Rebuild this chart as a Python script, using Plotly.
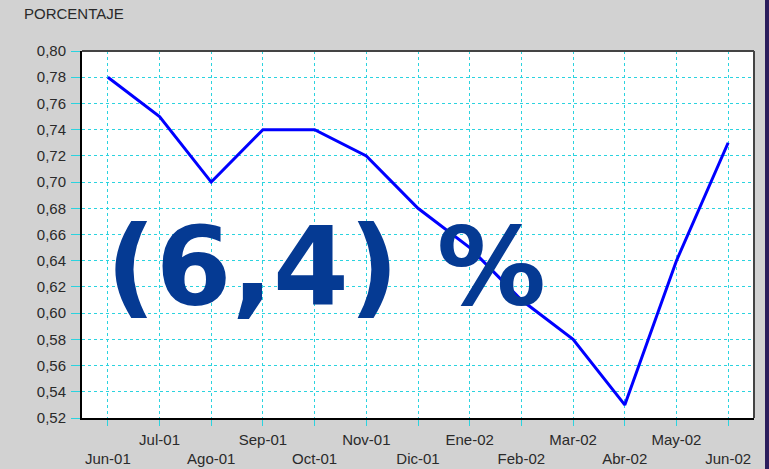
import plotly.graph_objects as go

months = ["Jun-01", "Jul-01", "Ago-01", "Sep-01", "Oct-01", "Nov-01", "Dic-01",
          "Ene-02", "Feb-02", "Mar-02", "Abr-02", "May-02", "Jun-02"]
values = [0.78, 0.75, 0.70, 0.74, 0.74, 0.72, 0.68, 0.65, 0.61, 0.58, 0.53, 0.64, 0.73]
y_ticks = [0.52, 0.54, 0.56, 0.58, 0.60, 0.62, 0.64, 0.66, 0.68, 0.70, 0.72, 0.74, 0.76, 0.78, 0.80]
y_ticktext = [f"{v:.2f}".replace(".", ",") for v in y_ticks]
big_label = "(6,4) %"
y_title = "PORCENTAJE"

idx = list(range(len(months)))
upper_idx = [i for i in idx if i % 2 == 1]
lower_idx = [i for i in idx if i % 2 == 0]

W, H = 769, 469
ML, MR, MT, MB = 82, 15, 51, 51

grid_color = "#2bd3df"
label_font = dict(family="Liberation Sans, Arial, sans-serif", size=15, color="#2a2a2a")

fig = go.Figure()
fig.add_trace(go.Scatter(x=idx, y=values, mode="lines",
                         line=dict(color="#0000ff", width=3), hoverinfo="skip",
                         showlegend=False))
fig.add_trace(go.Scatter(x=idx, y=values, mode="lines", xaxis="x2",
                         line=dict(color="rgba(0,0,0,0)", width=0), hoverinfo="skip",
                         showlegend=False))

fig.update_layout(
    width=W, height=H,
    margin=dict(l=ML, r=MR, t=MT, b=MB, autoexpand=False),
    paper_bgcolor="#d2d2d2",
    plot_bgcolor="#ffffff",
    xaxis=dict(range=[-0.5, 12.5], tickvals=idx,
               ticktext=[months[i] if i % 2 == 1 else "" for i in idx],
               showgrid=True, gridcolor=grid_color, griddash="3px,3px", gridwidth=1,
               ticks="outside", ticklen=6, tickcolor=grid_color, tickwidth=1,
               tickfont=label_font, ticklabelstandoff=1, automargin=False,
               showline=True, linecolor="#000000", linewidth=2, zeroline=False,
               fixedrange=True),
    xaxis2=dict(range=[-0.5, 12.5], overlaying="x", anchor="y", side="bottom",
                tickvals=lower_idx, ticktext=[months[i] for i in lower_idx],
                showgrid=False, ticks="", tickfont=label_font, ticklabelstandoff=30,
                automargin=False,
                showline=False, zeroline=False, fixedrange=True),
    yaxis=dict(range=[0.52, 0.80], tickvals=y_ticks, ticktext=y_ticktext,
               showgrid=True, gridcolor=grid_color, griddash="3px,3px", gridwidth=1,
               ticks="outside", ticklen=9, tickcolor=grid_color, tickwidth=1,
               tickfont=label_font, ticklabelstandoff=2, automargin=False,
               showline=True, linecolor="#000000", linewidth=2, zeroline=False,
               fixedrange=True),
    annotations=[
        dict(text=y_title, xref="paper", yref="paper",
             x=(22 - ML) / (W - ML - MR), y=(H - MB - 14) / (H - MT - MB),
             xanchor="left", yanchor="middle", showarrow=False,
             font=dict(family="Liberation Sans, Arial, sans-serif", size=15, color="#2a2a2a")),
        dict(text=f"<b>{big_label}</b>", xref="paper", yref="paper",
             x=(326 - ML) / (W - ML - MR), y=(H - MB - 266) / (H - MT - MB),
             xanchor="center", yanchor="middle", showarrow=False,
             font=dict(family="DejaVu Sans, Verdana, sans-serif", size=109, color="#053a93")),
    ],
    shapes=[
        dict(type="line", xref="paper", yref="paper", x0=0, x1=1, y0=1, y1=1,
             line=dict(color="#444444", width=2)),
        dict(type="line", xref="paper", yref="paper", x0=1, x1=1, y0=0, y1=1,
             line=dict(color="#444444", width=2)),
        dict(type="rect", xref="paper", yref="paper",
             x0=(765 - ML) / (W - ML - MR), x1=(W + 5 - ML) / (W - ML - MR),
             y0=-0.3, y1=1.3, fillcolor="#2b1d5c", line=dict(width=0), layer="above"),
    ],
)

fig.write_html("out.html", config={"displayModeBar": False},
               post_script="document.body.style.margin='0';")
